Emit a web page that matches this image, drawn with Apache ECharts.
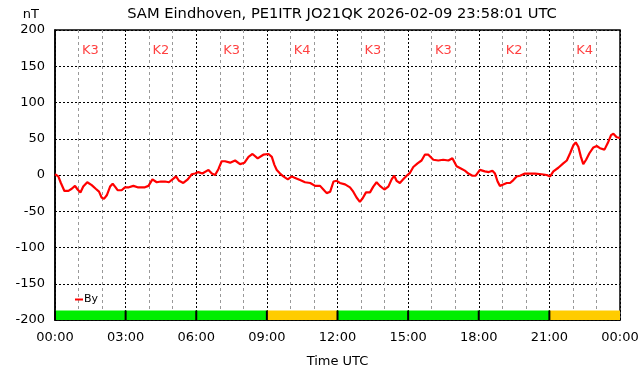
<!DOCTYPE html>
<html>
<head>
<meta charset="utf-8">
<script src="https://cdn.jsdelivr.net/npm/echarts@6/dist/echarts.min.js"></script>
<style>
  html, body { margin: 0; padding: 0; background: #fff; }
  #chart { width: 642px; height: 376px; }
</style>
</head>
<body>
<div id="chart"></div>
<script>
// By component, time in hours UTC
const byTimes = [0, 0.14, 0.25, 0.4, 0.57, 0.71, 0.85, 0.96, 1.08, 1.2, 1.37, 1.56, 1.73, 1.87, 1.98, 2.08, 2.2, 2.34, 2.45, 2.55, 2.66, 2.83, 2.97, 3.14, 3.33, 3.51, 3.65, 3.82, 3.97, 4.14, 4.32, 4.5, 4.67, 4.84, 5.03, 5.14, 5.27, 5.45, 5.64, 5.81, 5.95, 6.09, 6.26, 6.52, 6.66, 6.8, 6.94, 7.08, 7.22, 7.44, 7.65, 7.86, 8.05, 8.22, 8.39, 8.61, 8.85, 9.07, 9.21, 9.32, 9.42, 9.56, 9.7, 9.89, 10.06, 10.2, 10.41, 10.62, 10.84, 11.05, 11.26, 11.4, 11.54, 11.69, 11.83, 11.97, 12.1, 12.32, 12.53, 12.67, 12.81, 12.95, 13.07, 13.21, 13.38, 13.52, 13.66, 13.8, 13.99, 14.16, 14.3, 14.41, 14.51, 14.65, 14.79, 14.94, 15.08, 15.22, 15.4, 15.57, 15.71, 15.86, 16.07, 16.28, 16.49, 16.71, 16.88, 17.06, 17.24, 17.41, 17.56, 17.73, 17.87, 18.05, 18.26, 18.43, 18.58, 18.69, 18.8, 18.9, 19.04, 19.19, 19.33, 19.47, 19.61, 19.75, 19.96, 20.18, 20.39, 20.67, 20.89, 21.03, 21.17, 21.38, 21.59, 21.74, 21.88, 22.02, 22.12, 22.23, 22.34, 22.44, 22.56, 22.7, 22.87, 23.01, 23.15, 23.34, 23.48, 23.62, 23.72, 23.86, 24];
const byValues = [1, -2, -11, -22, -22, -19, -15, -20, -24, -16, -10, -14, -19, -23, -31, -33, -28, -16, -12, -16, -21, -21, -17, -17, -15, -17, -17, -17, -15, -6, -10, -9, -9, -10, -5, -2, -8, -11, -6, 1, 2, 4, 2, 7, 2, 0, 8, 19, 19, 17, 20, 15, 17, 25, 29, 23, 28, 29, 25, 14, 7, 2, -2, -6, -2, -4, -7, -10, -11, -15, -15, -20, -25, -23, -9, -8, -11, -13, -17, -23, -31, -37, -32, -24, -24, -16, -10, -15, -20, -16, -6, -1, -8, -11, -6, -1, 3, 11, 16, 20, 28, 28, 21, 20, 21, 20, 23, 12, 9, 6, 2, -1, -1, 7, 5, 4, 6, 2, -9, -15, -13, -11, -11, -7, -2, -1, 2, 2, 2, 1, 0, -2, 5, 10, 16, 20, 30, 41, 45, 39, 25, 15, 21, 30, 38, 40, 37, 35, 44, 55, 57, 52, 51];

// K index per 3-hour block
const kValues = [3, 2, 3, 4, 3, 3, 2, 4];
const xTicks = ['00:00', '03:00', '06:00', '09:00', '12:00', '15:00', '18:00', '21:00', '00:00'];

const chart = echarts.init(document.getElementById('chart'));

const lineData = byTimes.map((t, i) => [t, byValues[i]]);
const kBlocks = kValues.map((k, i) => [i * 3, i * 3 + 3, k]);
const kLabels = kValues.map((k, i) => [i * 3 + 1.5, 172, k]);

const font = 'DejaVu Sans';

const option = {
  animation: false,
  backgroundColor: '#fff',
  textStyle: { fontFamily: font },
  title: {
    text: 'SAM Eindhoven, PE1ITR JO21QK 2026-02-09 23:58:01 UTC',
    left: 337,
    top: 2,
    textAlign: 'center',
    textStyle: { fontFamily: font, fontSize: 14.7, fontWeight: 'normal', color: '#000' }
  },
  legend: {
    data: ['By'],
    left: 70,
    top: 289,
    icon: 'rect',
    itemWidth: 8,
    itemHeight: 2,
    textStyle: { fontFamily: font, fontSize: 11, color: '#000', padding: [0, 0, 0, -4] }
  },
  grid: {
    left: 55,
    top: 30,
    width: 565,
    height: 290,
    show: true,
    borderColor: '#000',
    borderWidth: 1.5
  },
  xAxis: {
    type: 'value',
    min: 0,
    max: 24,
    interval: 3,
    name: 'Time UTC',
    nameLocation: 'middle',
    nameGap: 35,
    nameTextStyle: { fontFamily: font, fontSize: 13, color: '#000' },
    axisLine: { show: true, onZero: false, lineStyle: { color: '#000', width: 1.5 } },
    axisTick: { show: false },
    axisLabel: {
      color: '#000',
      fontSize: 13,
      fontFamily: font,
      margin: 11,
      formatter: v => xTicks[Math.round(v / 3)]
    },
    splitLine: { show: true, lineStyle: { color: '#000', type: [2, 2], width: 1 } },
    minorTick: { show: false, splitNumber: 3 },
    minorSplitLine: { show: true, lineStyle: { color: '#999', type: [3, 3], width: 1 } }
  },
  yAxis: {
    type: 'value',
    min: -200,
    max: 200,
    interval: 50,
    name: 'nT',
    nameLocation: 'end',
    nameGap: 9,
    nameTextStyle: { fontFamily: font, fontSize: 13, color: '#000', align: 'right', padding: [0, 16, 0, 0] },
    axisLine: { show: true, onZero: false, lineStyle: { color: '#000', width: 1.5 } },
    axisTick: { show: false },
    axisLabel: { color: '#000', fontSize: 13, fontFamily: font, margin: 10 },
    splitLine: { show: true, lineStyle: { color: '#000', type: [2, 2], width: 1 } }
  },
  series: [
    {
      name: 'K',
      type: 'custom',
      silent: true,
      z: 1,
      data: kBlocks,
      renderItem: (params, api) => {
        const p1 = api.coord([api.value(0), -187]);
        const p2 = api.coord([api.value(1), -200]);
        const color = api.value(2) >= 4 ? '#ffcc00' : '#00ee00';
        return {
          type: 'group',
          children: [
            {
              type: 'rect',
              shape: { x: p1[0], y: p1[1], width: p2[0] - p1[0], height: p2[1] - p1[1] },
              style: { fill: color }
            },
            {
              type: 'line',
              shape: { x1: p1[0], y1: p1[1], x2: p1[0], y2: p2[1] },
              style: { stroke: '#000', lineWidth: 2 }
            }
          ]
        };
      }
    },
    {
      name: 'Klabel',
      type: 'scatter',
      symbolSize: 0,
      silent: true,
      data: kLabels,
      label: {
        show: true,
        position: 'inside',
        color: '#ff1010',
        fontSize: 13,
        fontFamily: font,
        formatter: p => 'K' + p.value[2]
      }
    },
    {
      name: 'By',
      type: 'line',
      z: 5,
      data: lineData,
      showSymbol: false,
      symbol: 'none',
      itemStyle: { color: '#ff0000' },
      lineStyle: { color: '#ff0000', width: 2.2 }
    }
  ]
};

chart.setOption(option);
</script>
</body>
</html>
